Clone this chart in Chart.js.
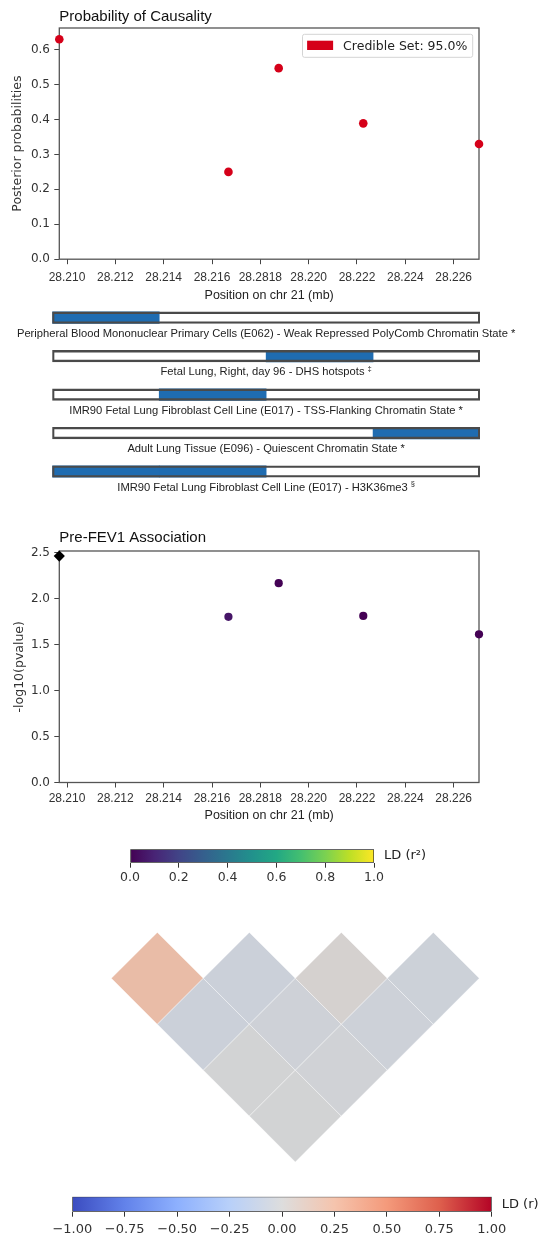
<!DOCTYPE html>
<html>
<head>
<meta charset="utf-8">
<script src="https://cdn.jsdelivr.net/npm/chart.js@4.4.0/dist/chart.umd.min.js"></script>
<style>
  body { margin: 0; background: #fff; }
  .page { position: relative; width: 538px; height: 1239px; overflow: hidden; }
  canvas { position: absolute; left: 0; }
</style>
</head>
<body>
<div class="page">
  <canvas id="prob" width="538" height="305" style="top:0"></canvas>
  <canvas id="tracks" width="538" height="195" style="top:305px"></canvas>
  <canvas id="pval" width="538" height="310" style="top:515px"></canvas>
  <canvas id="r2bar" width="538" height="55" style="top:835px"></canvas>
  <canvas id="ldmap" width="538" height="270" style="top:900px"></canvas>
  <canvas id="rbar" width="538" height="59" style="top:1180px"></canvas>
</div>
<script>
// snp positions (mb) and values
const positions = [28.20968, 28.21668, 28.21876, 28.22226, 28.22705]
const posteriorProbs = [0.63, 0.25, 0.547, 0.389, 0.33]
const negLog10P = [2.46, 1.80, 2.165, 1.81, 1.61]
const leadSnp = 0
const credibleSetLabel = 'Credible Set: 95.0%'

const xTicks = [28.210, 28.212, 28.214, 28.216, 28.218, 28.220, 28.222, 28.224, 28.226]
const xTickLabels = ['28.210', '28.212', '28.214', '28.216', '28.2818', '28.220', '28.222', '28.224', '28.226']
const probTicks = [0, 0.1, 0.2, 0.3, 0.4, 0.5, 0.6]
const probTickLabels = ['0.0', '0.1', '0.2', '0.3', '0.4', '0.5', '0.6']
const pvalTicks = [0, 0.5, 1.0, 1.5, 2.0, 2.5]
const pvalTickLabels = ['0.0', '0.5', '1.0', '1.5', '2.0', '2.5']

// functional annotation tracks, 4 segments each
const trackNames = [
    'Peripheral Blood Mononuclear Primary Cells (E062) - Weak Repressed PolyComb Chromatin State',
    'Fetal Lung, Right, day 96 - DHS hotspots',
    'IMR90 Fetal Lung Fibroblast Cell Line (E017) - TSS-Flanking Chromatin State',
    'Adult Lung Tissue (E096) - Quiescent Chromatin State',
    'IMR90 Fetal Lung Fibroblast Cell Line (E017) - H3K36me3'
]
const trackMarks = ['*', '‡', '*', '*', '§']
const trackSegments = [
    [1, 0, 0, 0],
    [0, 0, 1, 0],
    [0, 1, 0, 0],
    [0, 0, 0, 1],
    [1, 1, 0, 0]
]

// LD (r) between snps
const ldMatrix = [
    [1, 0.24, -0.06, -0.01, -0.01],
    [0.24, 1, -0.06, -0.035, -0.025],
    [-0.06, -0.06, 1, 0.02, -0.045],
    [-0.01, -0.035, 0.02, 1, -0.05],
    [-0.01, -0.025, -0.045, -0.05, 1]
]

const r2Ticks = [0, 0.2, 0.4, 0.6, 0.8, 1.0]
const r2TickLabels = ['0.0', '0.2', '0.4', '0.6', '0.8', '1.0']
const rTicks = [-1, -0.75, -0.5, -0.25, 0, 0.25, 0.5, 0.75, 1]
const rTickLabels = ['\u22121.00', '\u22120.75', '\u22120.50', '\u22120.25', '0.00', '0.25', '0.50', '0.75', '1.00']

const SANS = '"Liberation Sans", Arial, sans-serif'
const DEJAVU = '"DejaVu Sans", sans-serif'
const viridis = ['#440154', '#482475', '#414487', '#355f8d', '#2a788e', '#21918c', '#22a884', '#44bf70', '#7ad151', '#bddf26', '#fde725']
const coolwarm = ['#3b4cc0', '#6282ea', '#8db0fe', '#b8d0f9', '#dddddd', '#f5c4ad', '#f49a7b', '#de604d', '#b40426']

function hexToRgb(h) {
    return [parseInt(h.slice(1, 3), 16), parseInt(h.slice(3, 5), 16), parseInt(h.slice(5, 7), 16)]
}
function sampleMap(stops, t, shade = 1) {
    t = Math.min(1, Math.max(0, t))
    const pos = t * (stops.length - 1)
    const i = Math.min(stops.length - 2, Math.floor(pos))
    const f = pos - i
    const a = hexToRgb(stops[i]), b = hexToRgb(stops[i + 1])
    const c = a.map((v, k) => Math.round((v + (b[k] - v) * f) * shade))
    return `rgb(${c[0]},${c[1]},${c[2]})`
}

const frame = {
    id: 'frame',
    beforeDatasetsDraw(chart) {
        const {ctx, chartArea: a} = chart
        ctx.save()
        ctx.strokeStyle = '#555'
        ctx.lineWidth = 1.3
        ctx.strokeRect(a.left, a.top, a.right - a.left, a.bottom - a.top)
        ctx.restore()
    }
}

const insetLegend = {
    id: 'insetLegend',
    afterDraw(chart) {
        const {ctx, chartArea: a} = chart
        const ds = chart.data.datasets[0]
        ctx.save()
        ctx.font = `12.5px ${DEJAVU}`
        const tw = ctx.measureText(ds.label).width
        const w = 4.6 + 26 + 10 + tw + 5.4, h = 23
        const x = a.right - 6.3 - w, y = a.top + 6.3
        ctx.beginPath()
        if (ctx.roundRect) ctx.roundRect(x, y, w, h, 2); else ctx.rect(x, y, w, h)
        ctx.fillStyle = 'rgba(255,255,255,0.8)'
        ctx.fill()
        ctx.strokeStyle = '#d4d4d4'
        ctx.lineWidth = 1
        ctx.stroke()
        ctx.fillStyle = ds.pointBackgroundColor
        ctx.fillRect(x + 4.6, y + 6.4, 26, 9.3)
        ctx.fillStyle = '#222'
        ctx.textBaseline = 'middle'
        ctx.fillText(ds.label, x + 4.6 + 26 + 10, y + h / 2 + 0.5)
        ctx.restore()
    }
}

function positionAxis(height, tickPad, titlePad) {
    return {
        type: 'linear',
        min: Math.min(...positions),
        max: Math.max(...positions),
        afterBuildTicks: s => { s.ticks = xTicks.map(v => ({value: v})) },
        afterFit: s => { s.height = height },
        ticks: {
            autoSkip: false, maxRotation: 0, padding: tickPad, color: '#333',
            font: {family: SANS, size: 12},
            callback: (v, i) => xTickLabels[i]
        },
        grid: {drawOnChartArea: false, tickLength: 5, color: '#444'},
        border: {display: false},
        title: {
            display: true, text: 'Position on chr 21 (mb)', color: '#222',
            font: {family: SANS, size: 12.5}, padding: {top: 0, bottom: titlePad}
        }
    }
}

function valueAxis(max, ticks, labels, title, titlePad) {
    return {
        type: 'linear',
        min: 0,
        max: max,
        afterBuildTicks: s => { s.ticks = ticks.map(v => ({value: v})) },
        afterFit: s => { s.width = 59.3 },
        ticks: {
            padding: 4.3, color: '#333',
            font: {family: DEJAVU, size: 12},
            callback: (v, i) => labels[i]
        },
        grid: {drawOnChartArea: false, tickLength: 5, color: '#444'},
        border: {display: false},
        title: {
            display: true, text: title, color: '#333',
            font: {family: DEJAVU, size: 12.5}, padding: {top: titlePad, bottom: 0}
        }
    }
}

function titleOpts(text, top, bottom) {
    return {
        display: true, text: text, align: 'start', fullSize: false, color: '#111',
        font: {family: SANS, size: 15, weight: 'normal'}, padding: {top: top, bottom: bottom}
    }
}

// Probability of causality
new Chart(document.getElementById('prob'), {
    type: 'scatter',
    data: {
        datasets: [{
            label: credibleSetLabel,
            data: positions.map((p, i) => ({x: p, y: posteriorProbs[i]})),
            pointBackgroundColor: '#d50019',
            pointBorderWidth: 0,
            pointRadius: 4.3,
            clip: false
        }]
    },
    options: {
        responsive: false,
        animation: false,
        events: [],
        layout: {padding: {left: 0, right: 59, top: 0, bottom: 1.8}},
        scales: {
            x: positionAxis(44, 6, 0),
            y: valueAxis(0.662, probTicks, probTickLabels, 'Posterior probabilities', 10.5)
        },
        plugins: {
            title: titleOpts('Probability of Causality', 7.5, 2.5),
            legend: {display: false},
            tooltip: {enabled: false}
        }
    },
    plugins: [frame, insetLegend]
})

// annotation tracks
const trackLabels = {
    id: 'trackLabels',
    afterDraw(chart) {
        const {ctx, chartArea: a} = chart
        const cx = (a.left + a.right) / 2
        ctx.save()
        ctx.fillStyle = '#222'
        ctx.textBaseline = 'middle'
        trackNames.forEach((name, t) => {
            const y = chart.scales.y.getPixelForValue(t) + 16
            const main = name + ' '
            const mark = trackMarks[t]
            const big = mark === '*'
            ctx.font = `11.2px ${SANS}`
            const w1 = ctx.measureText(main).width
            ctx.font = big ? `11.2px ${SANS}` : `7.5px ${SANS}`
            const w2 = ctx.measureText(mark).width
            const x0 = cx - (w1 + w2) / 2
            ctx.font = `11.2px ${SANS}`
            ctx.fillText(main, x0, y)
            ctx.font = big ? `11.2px ${SANS}` : `7.5px ${SANS}`
            ctx.fillText(mark, x0 + w1, big ? y : y - 3.5)
        })
        ctx.restore()
    }
}

const segCount = trackSegments[0].length
const segmentSets = []
for (let k = 0; k < segCount; k++) {
    segmentSets.push({
        data: trackSegments.flatMap((seg, t) => seg[k] ? [{x: [k, k + 1], y: t}] : []),
        backgroundColor: '#1f6cb1',
        borderWidth: 0
    })
}

new Chart(document.getElementById('tracks'), {
    type: 'bar',
    data: {
        datasets: [{
            data: trackNames.map((n, t) => ({x: [0, segCount], y: t})),
            backgroundColor: 'rgba(0,0,0,0)',
            borderColor: '#4a4a4a',
            borderWidth: 1.7,
            borderSkipped: false
        }].concat(segmentSets)
    },
    options: {
        indexAxis: 'y',
        responsive: false,
        animation: false,
        events: [],
        datasets: {bar: {grouped: false, barThickness: 11.5}},
        layout: {padding: {left: 52.3, right: 58, top: 0, bottom: 0}},
        scales: {
            x: {type: 'linear', min: 0, max: segCount, display: false},
            y: {type: 'linear', min: -0.33, max: 4.74, reverse: true, offset: false, display: false}
        },
        plugins: {legend: {display: false}, tooltip: {enabled: false}}
    },
    plugins: [trackLabels]
})

// Pre-FEV1 association
new Chart(document.getElementById('pval'), {
    type: 'scatter',
    data: {
        datasets: [{
            data: positions.map((p, i) => ({x: p, y: negLog10P[i]})),
            pointStyle: c => c.dataIndex === leadSnp ? 'rectRot' : 'circle',
            pointRadius: c => c.dataIndex === leadSnp ? 5.6 : 4.1,
            pointBackgroundColor: c => c.dataIndex === leadSnp ? '#000'
                : sampleMap(viridis, Math.pow(ldMatrix[leadSnp][c.dataIndex], 2)),
            pointBorderWidth: 0,
            clip: false
        }]
    },
    options: {
        responsive: false,
        animation: false,
        events: [],
        layout: {padding: {left: 0, right: 59, top: 0, bottom: 1.5}},
        scales: {
            x: positionAxis(41, 4, 0),
            y: valueAxis(2.515, pvalTicks, pvalTickLabels, '-log10(pvalue)', 12)
        },
        plugins: {
            title: titleOpts('Pre-FEV1 Association', 13.7, 4.3),
            legend: {display: false},
            tooltip: {enabled: false}
        }
    },
    plugins: [frame]
})

// colour bars
function colorbar(id, stops, range, ticks, labels, label, pad, fontSize, tickPad) {
    const sideLabel = {
        id: 'sideLabel',
        afterDraw(chart) {
            const {ctx, chartArea: a} = chart
            ctx.save()
            ctx.fillStyle = '#222'
            ctx.font = `13px ${DEJAVU}`
            ctx.textBaseline = 'middle'
            ctx.fillText(label, a.right + 10, (a.top + a.bottom) / 2)
            ctx.restore()
        }
    }
    new Chart(document.getElementById(id), {
        type: 'bar',
        data: {
            labels: [label],
            datasets: [{
                data: [range],
                backgroundColor: c => {
                    const a = c.chart.chartArea
                    if (!a) return 'transparent'
                    const g = c.chart.ctx.createLinearGradient(a.left, 0, a.right, 0)
                    stops.forEach((s, i) => g.addColorStop(i / (stops.length - 1), s))
                    return g
                },
                borderColor: '#333',
                borderWidth: 1,
                borderSkipped: false,
                barPercentage: 1,
                categoryPercentage: 1
            }]
        },
        options: {
            indexAxis: 'y',
            responsive: false,
            animation: false,
            events: [],
            layout: {padding: pad},
            scales: {
                x: {
                    type: 'linear', min: range[0], max: range[1],
                    afterBuildTicks: s => { s.ticks = ticks.map(v => ({value: v})) },
                    afterFit: s => { s.height = 27.3 },
                    ticks: {
                        autoSkip: false, maxRotation: 0, padding: tickPad, color: '#333',
                        font: {family: DEJAVU, size: fontSize},
                        callback: (v, i) => labels[i]
                    },
                    grid: {drawOnChartArea: false, tickLength: 5, color: '#333'},
                    border: {display: false}
                },
                y: {display: false}
            },
            plugins: {legend: {display: false}, tooltip: {enabled: false}}
        },
        plugins: [sideLabel]
    })
}

colorbar('r2bar', viridis, [0, 1], r2Ticks, r2TickLabels, 'LD (r\u00b2)',
    {left: 130, right: 164, top: 14.3, bottom: 0}, 12.5, 2.1)

// LD heatmap, rotated triangle
const ldCells = []
for (let i = 0; i < ldMatrix.length; i++) {
    for (let j = i + 1; j < ldMatrix.length; j++) {
        ldCells.push({x: (i + j) / 2, y: j - i, ld: ldMatrix[i][j]})
    }
}

new Chart(document.getElementById('ldmap'), {
    type: 'scatter',
    data: {
        datasets: [{
            data: ldCells,
            pointStyle: 'rectRot',
            pointRadius: c => {
                const s = c.chart.scales.y
                return Math.abs(s.getPixelForValue(1) - s.getPixelForValue(0))
            },
            pointBackgroundColor: c => sampleMap(coolwarm, (c.raw.ld + 1) / 2, 0.955),
            pointBorderColor: 'rgba(255,255,255,0.45)',
            pointBorderWidth: 0.7,
            clip: false
        }]
    },
    options: {
        responsive: false,
        animation: false,
        events: [],
        layout: {padding: {left: 111.3, right: 58.7, top: 32.4, bottom: 8}},
        scales: {
            x: {type: 'linear', min: 0, max: ldMatrix.length - 1, display: false},
            y: {type: 'linear', min: 0, max: ldMatrix.length, reverse: true, display: false}
        },
        plugins: {legend: {display: false}, tooltip: {enabled: false}}
    }
})

colorbar('rbar', coolwarm, [-1, 1], rTicks, rTickLabels, 'LD (r)',
    {left: 72.3, right: 46.3, top: 16.7, bottom: 0}, 13, 5.5)
</script>
</body>
</html>
